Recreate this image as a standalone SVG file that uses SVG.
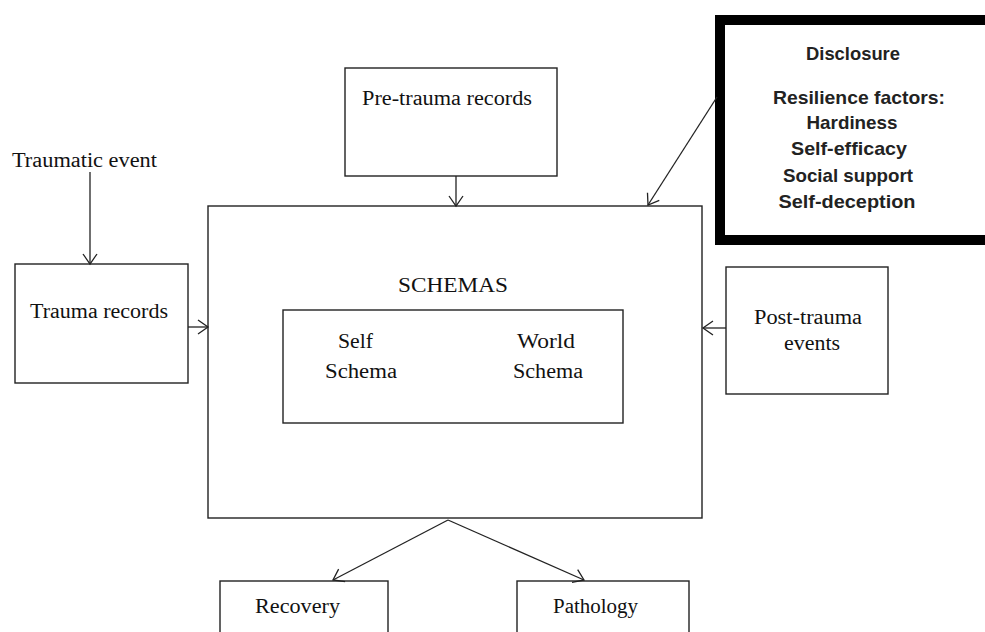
<svg xmlns="http://www.w3.org/2000/svg" width="985" height="632" viewBox="0 0 985 632">
<defs>
<style>
.box{fill:none;stroke:#222;stroke-width:1.4}
.thick{fill:none;stroke:#000;stroke-width:10}
.ln{fill:none;stroke:#222;stroke-width:1.3}
.s{font-family:"Liberation Serif","Times New Roman",serif;font-size:20px;fill:#111}
.b{font-family:"Liberation Sans",Arial,sans-serif;font-size:19px;font-weight:bold;fill:#222;text-anchor:middle}
</style>
<marker id="ah" markerUnits="userSpaceOnUse" markerWidth="14" markerHeight="18" refX="10" refY="8" orient="auto" overflow="visible">
<path d="M0,1 L10,8 L0,15" fill="none" stroke="#222" stroke-width="1.3"/>
</marker>
</defs>
<rect width="985" height="632" fill="#fff"/>

<g id="traumatic-event">
<text class="s" x="12" y="167" textLength="145" lengthAdjust="spacingAndGlyphs">Traumatic event</text>
</g>
<g id="trauma-records">
<rect class="box" x="15" y="264" width="173" height="119"/>
<text class="s" x="30" y="318" textLength="138" lengthAdjust="spacingAndGlyphs">Trauma records</text>
</g>
<g id="pre-trauma-records">
<rect class="box" x="345" y="68" width="212" height="108"/>
<text class="s" x="362" y="105" textLength="170" lengthAdjust="spacingAndGlyphs">Pre-trauma records</text>
</g>
<g id="schemas">
<rect class="box" x="208" y="206" width="494" height="312"/>
<text class="s" x="398" y="292" textLength="110" lengthAdjust="spacingAndGlyphs">SCHEMAS</text>
</g>
<g id="inner-schemas">
<rect class="box" x="283" y="310" width="340" height="113"/>
<text class="s" x="338" y="348" textLength="35" lengthAdjust="spacingAndGlyphs">Self</text>
<text class="s" x="325" y="378" textLength="72" lengthAdjust="spacingAndGlyphs">Schema</text>
<text class="s" x="517" y="348" textLength="58" lengthAdjust="spacingAndGlyphs">World</text>
<text class="s" x="513" y="378" textLength="70" lengthAdjust="spacingAndGlyphs">Schema</text>
</g>
<g id="post-trauma-events">
<rect class="box" x="726" y="267" width="162" height="127"/>
<text class="s" x="754" y="324" textLength="108" lengthAdjust="spacingAndGlyphs">Post-trauma</text>
<text class="s" x="784" y="350" textLength="56" lengthAdjust="spacingAndGlyphs">events</text>
</g>
<g id="disclosure">
<rect class="thick" x="720" y="20" width="280" height="220"/>
<text class="b" x="853" y="60" textLength="94" lengthAdjust="spacingAndGlyphs">Disclosure</text>
<text class="b" x="859" y="104" textLength="172" lengthAdjust="spacingAndGlyphs">Resilience factors:</text>
<text class="b" x="852" y="129" textLength="91" lengthAdjust="spacingAndGlyphs">Hardiness</text>
<text class="b" x="849" y="155" textLength="116" lengthAdjust="spacingAndGlyphs">Self-efficacy</text>
<text class="b" x="848" y="182" textLength="130" lengthAdjust="spacingAndGlyphs">Social support</text>
<text class="b" x="847" y="208" textLength="137" lengthAdjust="spacingAndGlyphs">Self-deception</text>
</g>
<g id="recovery">
<rect class="box" x="220" y="581" width="168" height="60"/>
<text class="s" x="255" y="613" textLength="85" lengthAdjust="spacingAndGlyphs">Recovery</text>
</g>
<g id="pathology">
<rect class="box" x="517" y="581" width="172" height="60"/>
<text class="s" x="553" y="613" textLength="85" lengthAdjust="spacingAndGlyphs">Pathology</text>
</g>

<g id="connectors">
<line class="ln" x1="90" y1="172" x2="90" y2="264" marker-end="url(#ah)"/>
<line class="ln" x1="188" y1="327" x2="208" y2="327" marker-end="url(#ah)"/>
<line class="ln" x1="456" y1="176" x2="456" y2="206" marker-end="url(#ah)"/>
<line class="ln" x1="717" y1="97" x2="648" y2="205" marker-end="url(#ah)"/>
<line class="ln" x1="726" y1="328" x2="703" y2="328" marker-end="url(#ah)"/>
<line class="ln" x1="448" y1="520" x2="333" y2="580" marker-end="url(#ah)"/>
<line class="ln" x1="448" y1="520" x2="584" y2="580" marker-end="url(#ah)"/>
</g>
</svg>
